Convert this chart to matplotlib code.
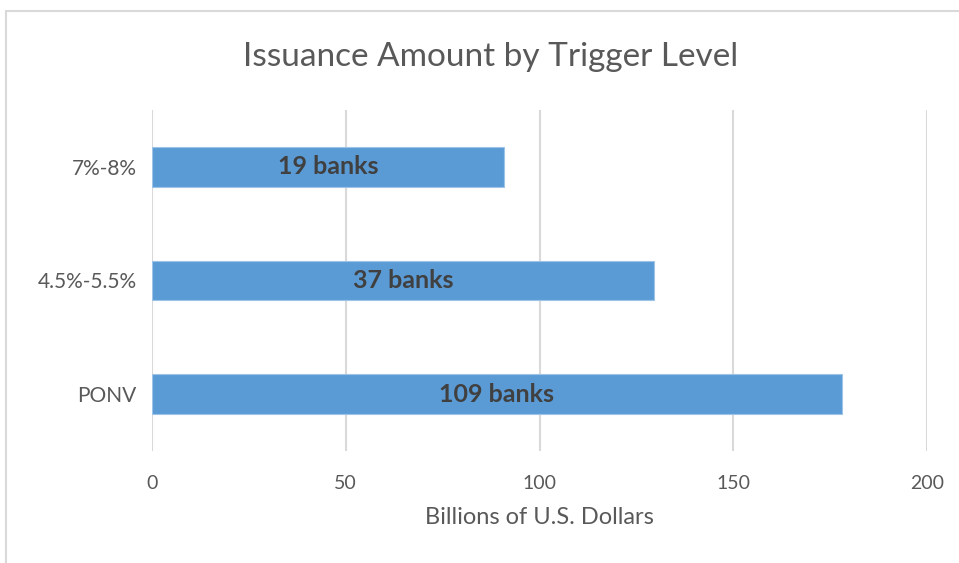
import matplotlib
matplotlib.use("Agg")
import matplotlib.pyplot as plt
from matplotlib.patches import Rectangle

categories = ["PONV", "4.5%-5.5%", "7%-8%"]
values = [178.0, 129.6, 90.9]
bar_labels = ["109 banks", "37 banks", "19 banks"]
xticks = [0, 50, 100, 150, 200]

plt.rcParams['font.family'] = ['Lato', 'DejaVu Sans']

fig = plt.figure(figsize=(9.59, 5.63), dpi=100)
ax = fig.add_axes([152/959, 1-451/563, (927-152)/959, (451-110)/563])

# chart border (top and left visible)
fig.patches.append(Rectangle((5.5/959, -0.1), 1.2, 1 - 10.5/563 + 0.1,
                             transform=fig.transFigure, fill=False,
                             edgecolor='#D9D9D9', linewidth=1.5))

ypos = range(len(categories))
ax.barh(ypos, values, height=0.35, color='#5B9BD5', edgecolor='#9DC3E6',
        linewidth=0.8, zorder=3)
for y, v, lab in zip(ypos, values, bar_labels):
    ax.text(v/2, y, lab, ha='center', va='center', fontsize=18,
            fontweight='bold', color='#404040', zorder=4)

ax.set_xlim(0, 200)
ax.set_ylim(-0.5, 2.5)
ax.set_xticks(xticks)
ax.set_yticks(list(ypos))
ax.set_yticklabels(categories)
ax.grid(axis='x', color='#D9D9D9', linewidth=1.5, zorder=0)
for s in ax.spines.values():
    s.set_visible(False)
ax.tick_params(axis='both', length=0, labelcolor='#595959')
ax.tick_params(axis='x', pad=17, labelsize=14)
ax.tick_params(axis='y', pad=11, labelsize=15)
ax.set_xlabel("Billions of U.S. Dollars", fontsize=17, color='#595959', labelpad=11)

fig.text(491/959, 1-57/563, "Issuance Amount by Trigger Level", ha='center',
         va='center', fontsize=24, color='#595959')

fig.savefig("out.png", dpi=100)
